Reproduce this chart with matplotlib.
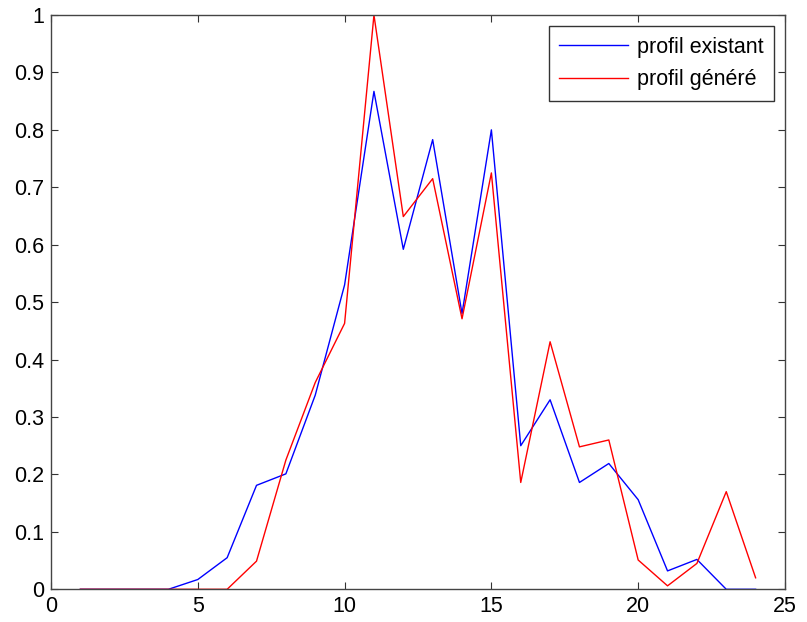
import numpy as np
import matplotlib
matplotlib.use("Agg")
import matplotlib.pyplot as plt

# -----------------------------------------------------------------------------
# Data
# -----------------------------------------------------------------------------
x = list(range(1, 25))
existant = [0, 0, 0, 0, 0.017, 0.055, 0.181, 0.201, 0.338, 0.53, 0.867, 0.592,
            0.783, 0.48, 0.800, 0.250, 0.330, 0.186, 0.219, 0.156, 0.032, 0.052,
            0, 0]
genere = [0, 0, 0, 0, 0, 0, 0.049, 0.225, 0.36, 0.463, 1.0, 0.649,
          0.715, 0.471, 0.725, 0.186, 0.431, 0.248, 0.260, 0.051, 0.006, 0.045,
          0.170, 0.020]
labels = ['profil existant', 'profil généré']

# -----------------------------------------------------------------------------
# Plot
# -----------------------------------------------------------------------------
plt.rcParams['font.family'] = ['Liberation Sans', 'DejaVu Sans']
fig = plt.figure(figsize=(8.07, 6.22), dpi=100)
ax = fig.add_axes([0.0632, 0.0526, 0.9095, 0.9233])

ax.plot(x, existant, color='blue', lw=1.0, label=labels[0])
ax.plot(x, genere, color='red', lw=1.0, label=labels[1])

ax.set_xlim(0, 25)
ax.set_ylim(0, 1)
ax.set_xticks([0, 5, 10, 15, 20, 25])
ax.set_yticks(np.arange(0, 1.01, 0.1))
ax.set_yticklabels(['0', '0.1', '0.2', '0.3', '0.4', '0.5', '0.6', '0.7', '0.8', '0.9', '1'])
ax.tick_params(direction='in', top=True, right=True, labelsize=15.5, length=5,
               color='#333333', pad=5)
for s in ax.spines.values():
    s.set_color('#444444')
    s.set_linewidth(1.0)

leg = ax.legend(loc='upper right', fontsize=15.5, fancybox=False, framealpha=1,
                edgecolor='#333333', handlelength=3.2, handletextpad=0.4,
                borderaxespad=0.5, borderpad=0.5, labelspacing=0.55)
leg.get_frame().set_linewidth(1.0)

fig.savefig('out.png', dpi=100)
